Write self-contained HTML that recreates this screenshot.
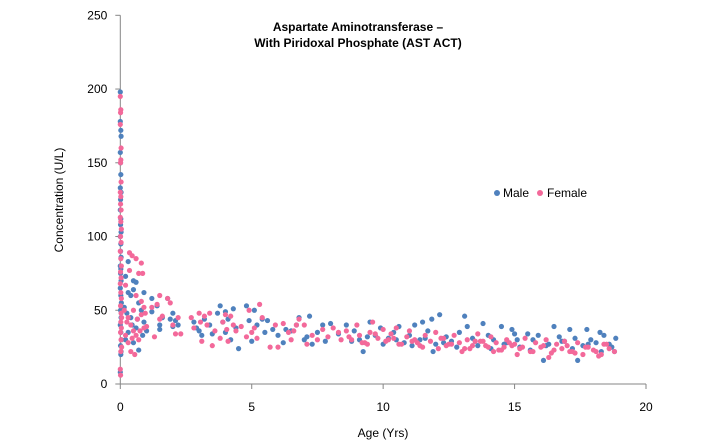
<!DOCTYPE html>
<html><head><meta charset="utf-8"><style>
body{margin:0;background:#fff;}
svg{display:block;font-family:"Liberation Sans",Calibri,sans-serif;}
</style></head><body>
<svg id="chart" width="703" height="447" viewBox="0 0 703 447">
<rect width="703" height="447" fill="#fff"/>
<g id="axes"></g>
<g id="pts"></g>
<text x="358" y="31" text-anchor="middle" font-size="12" font-weight="bold" fill="#000">Aspartate Aminotransferase –</text>
<text x="358" y="47" text-anchor="middle" font-size="12" font-weight="bold" fill="#000">With Piridoxal Phosphate (AST ACT)</text>
<text transform="translate(63,200) rotate(-90)" text-anchor="middle" font-size="12" fill="#000">Concentration (U/L)</text>
<text x="383" y="437" text-anchor="middle" font-size="12" fill="#000">Age (Yrs)</text>
<g>
<circle cx="497" cy="193" r="3" fill="#4F81BD"/>
<text x="503" y="197" font-size="12">Male</text>
<circle cx="540" cy="193" r="3" fill="#F3699A"/>
<text x="547" y="197" font-size="12">Female</text>
</g>
</svg>
<script>
const xTicks=[0,5,10,15,20];
const yTicks=[0,50,100,150,200,250];
const maleAge=[0,0,0.02,0.03,0,0.01,0.02,0,0.03,0.01,0,0.02,0.01,0.03,0,0.02,0.01,0.03,0,0.02,0.01,0.03,0,0.02,0.04,0.01,0.03,0,0.02,0.04,0.01,0.03,0.02,0,
0.3,0.5,0.6,0.2,0.3,0.4,0.9,0.5,0.7,0.8,0.4,0.6,0.7,0.2,0.9,1,0.3,0.5,0.15,0.25,0.45,0.65,0.85,
1.2,1.4,1.5,1.6,1.8,2,1.9,2.1,1.5,1.2,2,2.2,
2.8,2.9,3,3.2,3.4,3.8,3.7,4,4.1,4.3,4.5,4,4.4,4.2,3.5,3.9,4.8,4.9,5,5.1,5.2,3.1,
5.4,5.6,5.8,6,6.2,6.5,6.7,6.8,7,7.2,7.3,7.5,7.7,7.8,8,7.1,6.3,5.5,
8.6,9.24,9.5,10.6,11.2,11.5,11.85,12.15,11.9,13.2,13.1,13.8,14.5,14.9,15.5,16.5,17.1,17.75,17.4,16.1,18.85,18.8,18.25,
8.3,8.9,9.1,9.7,9.9,10.2,10.4,10.8,11,11.4,11.7,12,12.4,12.6,12.9,13.4,13.6,14,14.2,14.7,15,15.2,15.7,15.9,16.3,16.7,16.9,17.3,17.6,17.9,18.1,18.4,18.6,
8.8,9.4,10,10.5,11.1,11.6,12.3,12.8,13.5,14.1,14.6,15.1,15.6,16.2,16.8,17.2,17.8,18.3,18.7];
const maleVal=[198,178,172,168,157,150,142,133,130,125,118,112,108,103,100,95,90,86,80,78,75,70,65,60,55,50,45,40,35,30,26,22,20,8,
83,70,69,73,62,60,62,64,55,50,45,38,23,30,42,36,35,28,52,48,40,44,33,
58,53,40,45,58,48,44,43,37,49,39,40,
42,38,36,44,40,53,48,49,44,51,24,35,38,30,34,42,53,43,29,50,40,33,
44,43,37,33,28,36,40,45,30,46,27,35,40,29,41,32,37,35,
40,22,42,39,40,42,44,47,22,39,46,41,39,37,34,39,37,37,16,16,31,22,35,
34,36,30,33,38,31,35,28,33,30,36,27,32,29,35,31,26,33,30,28,34,25,30,33,27,32,29,31,26,30,28,33,27,
29,32,27,30,26,31,28,25,29,24,27,30,23,26,29,24,27,22,25];
const femAge=[0,0.02,0.01,0,0.03,0.02,0.01,0.03,0,0.02,0.01,0.03,0,0.02,0.04,0.01,0.03,0,0.02,0.04,0.01,0.03,0,0.02,0.04,0.01,0.03,0.05,0.02,0.04,0.01,0.03,0.05,0.02,0,0.01,
0.35,0.45,0.6,0.8,0.7,0.85,0.35,0.2,0.6,0.8,0.9,0.5,0.3,0.4,0.5,0.6,0.7,0.3,0.4,0.55,0.2,0.8,0.9,1,0.15,0.25,0.65,0.75,0.45,0.95,
1.2,1.3,1.4,1.5,1.6,1.8,1.9,2,2.2,2.3,2.1,1.5,
2.7,2.8,3,3.1,3.2,3.3,3.4,3.5,3.6,3.8,3.9,4,4.1,4.2,4.3,4.4,4.6,4.8,4.9,5,5.1,5.3,5.4,5.2,3.05,4.05,
5.7,5.9,6,6.2,6.4,6.5,6.7,6.8,7,7.1,7.3,7.5,7.7,7.9,8.1,8.3,8.4,6.6,
8.6,8.8,9,9.1,9.3,9.5,9.6,9.8,10,10.1,10.3,10.5,10.7,10.9,11,11.2,11.4,11.6,11.8,12,12.1,12.3,12.5,12.7,12.9,13,13.2,13.4,13.6,13.8,14,14.1,14.3,14.5,14.7,14.9,15,15.2,15.4,15.6,15.8,16,16.2,16.4,16.6,16.8,17,17.2,17.4,17.6,17.8,18,18.2,18.4,18.6,18.8,
8.7,9.2,9.7,10.2,10.6,11.1,11.5,12.2,12.6,13.1,13.5,13.9,14.4,14.8,15.3,15.7,16.1,16.5,16.9,17.3,17.7,18.1,18.5,
9.4,10.4,11.3,12.4,13.3,14.2,15.1,16.3,17.1,18.3,13.7,14.6];
const femVal=[195,186,184,176,160,152,150,137,130,127,122,118,113,110,105,100,96,90,85,80,76,72,68,62,58,53,48,45,42,38,35,30,25,22,10,6,
89,87,85,82,75,75,77,67,60,56,52,50,45,40,36,33,30,28,22,20,33,47,38,39,50,42,44,36,31,48,
52,32,54,60,46,58,55,40,45,34,34,44,
45,38,48,29,46,40,48,26,36,31,42,47,29,46,40,36,39,32,50,35,38,54,45,31,42,37,
25,40,25,41,35,30,40,44,40,27,33,30,37,32,38,35,30,36,
36,30,40,33,28,35,42,31,37,29,34,38,27,32,36,30,26,33,29,35,24,31,27,33,28,22,30,26,34,29,25,32,28,23,30,26,27,24,31,22,28,25,30,21,27,24,26,22,28,20,25,23,19,27,24,22,
32,28,34,30,27,29,25,31,27,24,29,26,23,28,25,22,26,23,29,21,25,22,27,
27,31,28,26,24,22,20,18,22,20,29,25];
const NS="http://www.w3.org/2000/svg";
const X0=120.3,X1=646,Y0=384,Y1=15.3;
function sx(v){return X0+(v-0)/(20-0)*(X1-X0);}
function sy(v){return Y0-(v-0)/(250-0)*(Y0-Y1);}
const axes=document.getElementById('axes');
function mk(tag,attrs,parent){const e=document.createElementNS(NS,tag);for(const k in attrs)e.setAttribute(k,attrs[k]);parent.appendChild(e);return e;}
const ya=mk('line',{x1:X0,y1:Y1,x2:X0,y2:Y0,stroke:'#868686','stroke-width':1},axes);


const xa=mk('line',{x1:X0,y1:Y0,x2:X1,y2:Y0,stroke:'#868686','stroke-width':1},axes);


yTicks.forEach(t=>{
  const l=mk('line',{x1:X0-5,y1:sy(t),x2:X0,y2:sy(t),stroke:'#868686'},axes);
  
  
  const tx=mk('text',{x:X0-13,y:sy(t)+4,'text-anchor':'end','font-size':12,fill:'#000'},axes);
  tx.textContent=t;
  
  
});
xTicks.forEach(t=>{
  const l=mk('line',{x1:sx(t),y1:Y0,x2:sx(t),y2:Y0+5,stroke:'#868686'},axes);
  
  
  const tx=mk('text',{x:sx(t),y:Y0+27,'text-anchor':'middle','font-size':12,fill:'#000'},axes);
  tx.textContent=t;
  
  
});
const pts=document.getElementById('pts');
maleAge.forEach((a,i)=>{
  const c=mk('circle',{cx:sx(a),cy:sy(maleVal[i]),r:2.6,fill:'#4F81BD'},pts);
  
  
});
femAge.forEach((a,i)=>{
  const c=mk('circle',{cx:sx(a),cy:sy(femVal[i]),r:2.6,fill:'#F3699A'},pts);
  
  
});
</script>
</body></html>
